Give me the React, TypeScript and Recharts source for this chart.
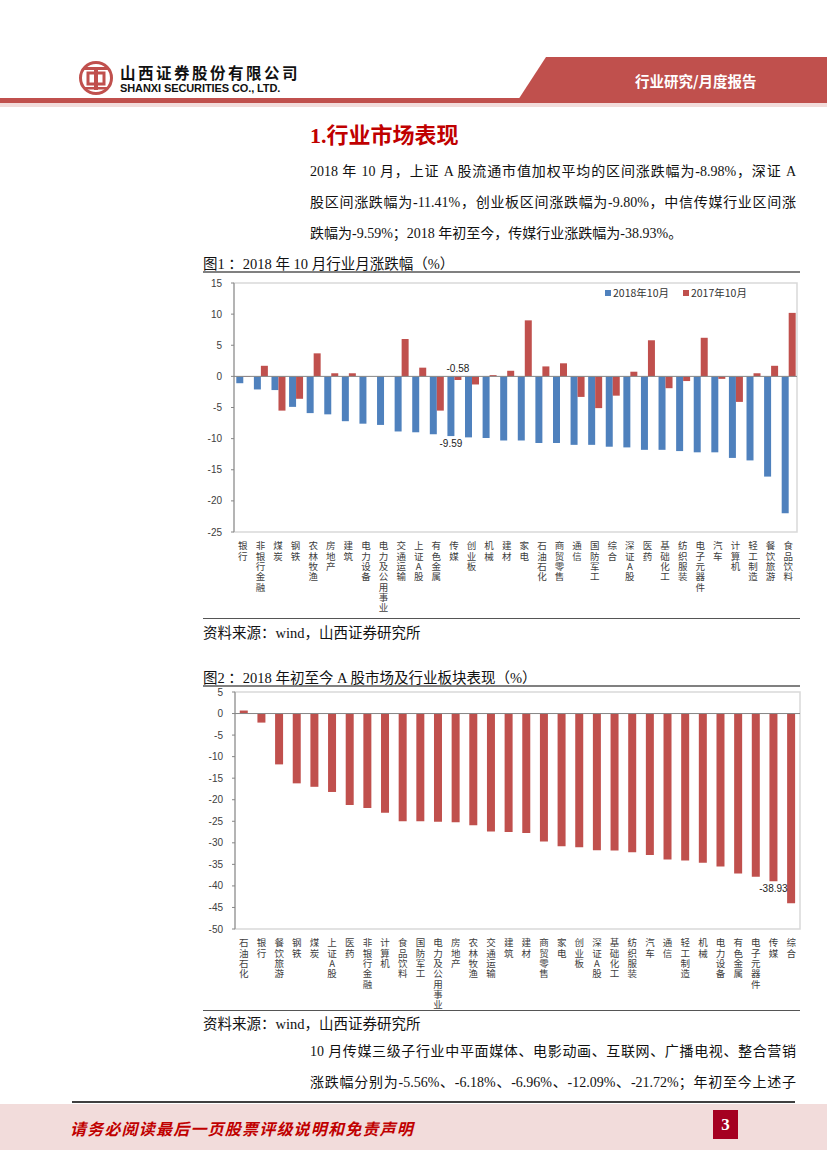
import React from "react";
import {
  BarChart,
  Bar,
  XAxis,
  YAxis,
  Legend,
  ReferenceLine,
  ReferenceArea,
} from "recharts";

// 图1：2018年10月行业月涨跌幅
const monthCategories = [
  "银行", "非银行金融", "煤炭", "钢铁", "农林牧渔", "房地产", "建筑", "电力设备",
  "电力及公用事业", "交通运输", "上证A股", "有色金属", "传媒", "创业板", "机械", "建材",
  "家电", "石油石化", "商贸零售", "通信", "国防军工", "综合", "深证A股", "医药",
  "基础化工", "纺织服装", "电子元器件", "汽车", "计算机", "轻工制造", "餐饮旅游", "食品饮料",
];
const oct2018 = [
  -1.1, -2.1, -2.2, -4.9, -5.9, -6.1, -7.2, -7.6, -7.8, -8.85, -8.98, -9.3, -9.59, -9.8, -9.9, -10.3,
  -10.3, -10.7, -10.7, -11.0, -11.0, -11.3, -11.41, -11.8, -11.8, -12.0, -12.2, -12.2, -13.1, -13.5, -16.1, -22.0,
];
const oct2017 = [
  -0.1, 1.7, -5.5, -3.6, 3.7, 0.5, 0.5, 0, 0, 6.0, 1.4, -5.5, -0.58, -1.3, 0.2, 0.9,
  9.0, 1.6, 2.1, -3.3, -5.1, -3.1, 0.75, 5.8, -1.9, -0.75, 6.2, -0.4, -4.1, 0.5, 1.7, 10.2,
];
const monthSeries = ["2018年10月", "2017年10月"];
const monthTicks = [15, 10, 5, 0, -5, -10, -15, -20, -25];

// 图2：2018年初至今
const ytdCategories = [
  "石油石化", "银行", "餐饮旅游", "钢铁", "煤炭", "上证A股", "医药", "非银行金融",
  "计算机", "食品饮料", "国防军工", "电力及公用事业", "房地产", "农林牧渔", "交通运输", "建筑",
  "建材", "商贸零售", "家电", "创业板", "深证A股", "基础化工", "纺织服装", "汽车",
  "通信", "轻工制造", "机械", "电力设备", "有色金属", "电子元器件", "传媒", "综合",
];
const ytd2018 = [
  0.7, -2.1, -11.8, -16.2, -17.0, -18.2, -21.2, -21.9, -23.0, -25.0, -25.0, -25.1, -25.2, -25.9, -27.4, -27.5,
  -27.7, -29.7, -30.8, -31.0, -31.7, -31.8, -32.2, -32.8, -33.9, -34.1, -34.6, -35.5, -37.1, -37.9, -38.93, -44.0,
];
const ytdTicks = [5, 0, -5, -10, -15, -20, -25, -30, -35, -40, -45, -50];

const BLUE = "#4F81BD";
const RED = "#C0504D";
const SERIF = '"Liberation Serif", "Noto Sans CJK SC", serif';
const CJK = '"Noto Sans CJK SC", sans-serif';
const NUM = '"Liberation Sans", "Noto Sans", sans-serif';
const seriesColor: Record<string, string> = { "2018年10月": BLUE, "2017年10月": RED };

const monthData = monthCategories.map((name, i) => ({
  name,
  [monthSeries[0]]: oct2018[i],
  [monthSeries[1]]: oct2017[i],
}));
const ytdData = ytdCategories.map((name, i) => ({ name, value: ytd2018[i] }));

// category names run top to bottom, one character under the other
function VerticalTick({ x, y, payload }: any) {
  return (
    <text
      x={x}
      y={y + 9}
      fontSize={9.5}
      fontFamily={CJK}
      fill="#404040"
      style={{ writingMode: "vertical-rl", textOrientation: "upright", letterSpacing: 0.8 }}
    >
      {String(payload.value)}
    </text>
  );
}

// only a few bars carry a label in the original
const pickLabel = (target: number, below: boolean) => (props: any) => {
  const { x, y, width, height, value } = props;
  if (value !== target) return null;
  const top = Math.min(y, y + height);
  const bottom = Math.max(y, y + height);
  return (
    <text
      x={x + width / 2}
      y={below ? bottom + 11 : top - 4}
      textAnchor="middle"
      fontSize={10}
      fontFamily={NUM}
      fill="#222"
    >
      {value}
    </text>
  );
};

function LegendBox() {
  return (
    <div style={{ display: "flex", gap: 14, fontSize: 10.5, fontFamily: CJK, color: "#333", whiteSpace: "nowrap" }}>
      {monthSeries.map((s) => (
        <span key={s} style={{ display: "flex", alignItems: "center", gap: 2 }}>
          <span style={{ width: 6, height: 6, background: seriesColor[s], display: "inline-block" }} />
          {s}
        </span>
      ))}
    </div>
  );
}

const yTick = { fontSize: 10, fill: "#404040", fontFamily: NUM };

function Logo() {
  return (
    <svg width={36} height={36} viewBox="0 0 36 36" style={{ position: "absolute", left: 78, top: 60 }}>
      <circle cx={18} cy={18} r={15.5} fill="none" stroke="#C0504D" strokeWidth={3} />
      <rect x={6} y={7} width={24} height={3} fill="#C0504D" />
      <rect x={10} y={13} width={16} height={11} fill="none" stroke="#C0504D" strokeWidth={3} />
      <rect x={16} y={10} width={4} height={20} fill="#C0504D" />
      <rect x={7} y={27} width={22} height={2.5} fill="#C0504D" />
    </svg>
  );
}

const lineStyle = (top: number, extra: React.CSSProperties = {}): React.CSSProperties => ({
  position: "absolute",
  top,
  fontFamily: SERIF,
  fontSize: 14,
  color: "#111",
  whiteSpace: "nowrap",
  ...extra,
});

function JLine({ top, children }: { top: number; children: React.ReactNode }) {
  return (
    <div
      style={lineStyle(top - 10, {
        left: 310,
        width: 486,
        textAlign: "justify",
        textAlignLast: "justify",
        whiteSpace: "normal",
      })}
    >
      {children}
    </div>
  );
}

export default function App() {
  return (
    <div style={{ position: "absolute", left: 0, top: 0, width: 827, height: 1169, background: "#fff", overflow: "hidden" }}>
      {/* header */}
      <Logo />
      <div style={{ position: "absolute", left: 120, top: 63, lineHeight: "18px", fontFamily: CJK, fontWeight: 700, fontSize: 15.5, letterSpacing: 2.5, color: "#111" }}>
        山西证券股份有限公司
      </div>
      <div style={{ position: "absolute", left: 120, top: 82, lineHeight: "12px", fontFamily: NUM, fontWeight: 700, fontSize: 11, color: "#111", letterSpacing: -0.1 }}>
        SHANXI SECURITIES CO., LTD.
      </div>
      <svg width={827} height={112} style={{ position: "absolute", left: 0, top: 0 }}>
        <polygon points="518,100 546,57 827,57 827,100" fill={RED} />
        <rect x={0} y={98} width={827} height={5} fill={RED} />
        <rect x={0} y={103} width={827} height={4} fill="#F2DCDB" />
      </svg>
      <div style={{ position: "absolute", left: 635, top: 70, fontFamily: CJK, fontWeight: 700, fontSize: 14.5, color: "#fff" }}>
        行业研究/月度报告
      </div>

      {/* section heading and text */}
      <div style={{ position: "absolute", left: 310, top: 117, fontFamily: SERIF, fontWeight: 700, fontSize: 22, color: "#C00000" }}>
        1.行业市场表现
      </div>
      <JLine top={170}>2018 年 10 月，上证 A 股流通市值加权平均的区间涨跌幅为-8.98%，深证 A</JLine>
      <JLine top={201}>股区间涨跌幅为-11.41%，创业板区间涨跌幅为-9.80%，中信传媒行业区间涨</JLine>
      <div style={lineStyle(222, { left: 310 })}>跌幅为-9.59%；2018 年初至今，传媒行业涨跌幅为-38.93%。</div>

      {/* figure 1 */}
      <div style={lineStyle(252, { left: 203, fontSize: 14.5 })}>图1 ：2018 年 10 月行业月涨跌幅（%）</div>
      <div style={{ position: "absolute", left: 203, top: 271, width: 597, height: 1.5, background: "#808080" }} />
      <div style={{ position: "absolute", left: 180, top: 275 }}>
        <BarChart
          width={620}
          height={342}
          data={monthData}
          margin={{ top: 8, right: 3, left: 0, bottom: 0 }}
          barCategoryGap="13%"
          barGap={0}
        >
          <ReferenceArea y1={-25} y2={15} fill="none" stroke="#D9D9D9" strokeWidth={1.5} ifOverflow="visible" />
          <XAxis dataKey="name" interval={0} height={85} tick={<VerticalTick />} tickLine={false} axisLine={false} tickSize={0} tickMargin={0} />
          <YAxis
            domain={[-25, 15]}
            ticks={monthTicks}
            interval={0}
            width={54}
            tick={yTick}
            tickSize={3}
            tickMargin={9}
            axisLine={{ stroke: "#868686" }}
            tickLine={{ stroke: "#868686" }}
          />
          <Legend
            layout="horizontal"
            verticalAlign="middle"
            align="center"
            content={<LegendBox />}
            wrapperStyle={{ top: 10, left: 425, width: "auto" }}
          />
          <Bar dataKey={monthSeries[0]} fill={BLUE} isAnimationActive={false} label={pickLabel(-9.59, true)} />
          <Bar dataKey={monthSeries[1]} fill={RED} isAnimationActive={false} label={pickLabel(-0.58, false)} />
          <ReferenceLine y={0} stroke="#868686" strokeWidth={1} />
        </BarChart>
      </div>
      <div style={{ position: "absolute", left: 203, top: 618, width: 597, height: 1, background: "#555" }} />
      <div style={lineStyle(621, { left: 203, fontSize: 14.5 })}>资料来源：wind，山西证券研究所</div>

      {/* figure 2 */}
      <div style={lineStyle(666, { left: 203, fontSize: 14.5 })}>图2 ：2018 年初至今 A 股市场及行业板块表现（%）</div>
      <div style={{ position: "absolute", left: 203, top: 685, width: 597, height: 1.5, background: "#808080" }} />
      <div style={{ position: "absolute", left: 180, top: 684 }}>
        <BarChart
          width={623}
          height={330}
          data={ytdData}
          margin={{ top: 8, right: 3, left: 0, bottom: 0 }}
          barCategoryGap="27%"
        >
          <ReferenceArea y1={-50} y2={5} fill="none" stroke="#D9D9D9" strokeWidth={1.5} ifOverflow="visible" />
          <XAxis dataKey="name" interval={0} height={85} tick={<VerticalTick />} tickLine={false} axisLine={false} tickSize={0} tickMargin={0} />
          <YAxis
            domain={[-50, 5]}
            ticks={ytdTicks}
            interval={0}
            width={55}
            tick={yTick}
            tickSize={3}
            tickMargin={9}
            axisLine={{ stroke: "#868686" }}
            tickLine={{ stroke: "#868686" }}
          />
          <Bar dataKey="value" fill={RED} isAnimationActive={false} label={pickLabel(-38.93, true)} />
          <ReferenceLine y={0} stroke="#868686" strokeWidth={1} />
        </BarChart>
      </div>
      <div style={{ position: "absolute", left: 203, top: 1010, width: 597, height: 1, background: "#555" }} />
      <div style={lineStyle(1012, { left: 203, fontSize: 14.5 })}>资料来源：wind，山西证券研究所</div>

      <JLine top={1050}>10 月传媒三级子行业中平面媒体、电影动画、互联网、广播电视、整合营销</JLine>
      <JLine top={1081}>涨跌幅分别为-5.56%、-6.18%、-6.96%、-12.09%、-21.72%；年初至今上述子</JLine>

      {/* footer */}
      <div style={{ position: "absolute", left: 72, top: 1101, width: 723, height: 1.5, background: "#404040" }} />
      <div style={{ position: "absolute", left: 0, top: 1104, width: 827, height: 46, background: "#F2DCDB" }} />
      <div style={{ position: "absolute", left: 70, top: 1116, fontFamily: CJK, fontWeight: 700, fontSize: 16, letterSpacing: 1.2, color: "#C00000", fontStyle: "italic" }}>
        请务必阅读最后一页股票评级说明和免责声明
      </div>
      <div
        style={{
          position: "absolute",
          left: 713,
          top: 1110,
          width: 25,
          height: 29,
          background: "#A50021",
          color: "#fff",
          fontFamily: SERIF,
          fontWeight: 700,
          fontSize: 17,
          display: "flex",
          alignItems: "center",
          justifyContent: "center",
        }}
      >
        3
      </div>
    </div>
  );
}
